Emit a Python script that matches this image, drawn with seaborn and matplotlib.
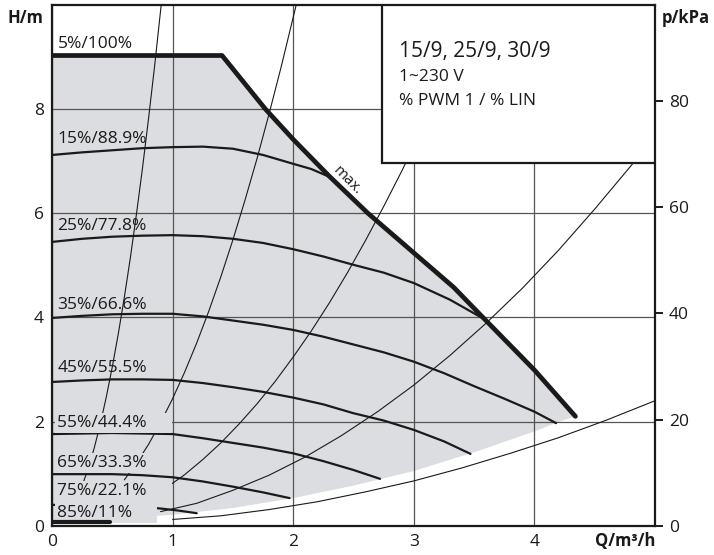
import numpy as np
import matplotlib
matplotlib.use("Agg")
import matplotlib.pyplot as plt
import seaborn as sns
from matplotlib.patches import Rectangle

sns.set_theme(style="white")
plt.rcParams["font.family"] = ["Open Sans", "DejaVu Sans"]

# ---- data ----
max_q = [0.0, 1.41, 1.77, 2.0, 2.3, 2.62, 3.0, 3.33, 3.59, 4.0, 4.34]
max_h = [9.03, 9.03, 8.0, 7.42, 6.71, 6.0, 5.24, 4.58, 3.96, 2.99, 2.10]

lower_q = [0.0, 0.5, 1.0, 1.5, 2.0, 2.5, 3.0, 3.5, 4.0, 4.21]
lower_h = [0.10, 0.13, 0.21, 0.34, 0.53, 0.77, 1.05, 1.41, 1.81, 2.00]

s15_q = [0.0, 0.25, 0.5, 0.75, 1.0, 1.25, 1.5, 1.75, 2.0, 2.15, 2.29]
s15_h = [7.12, 7.17, 7.21, 7.25, 7.27, 7.28, 7.24, 7.12, 6.95, 6.85, 6.71]
s25_q = [0.0, 0.25, 0.5, 0.75, 1.0, 1.25, 1.5, 1.75, 2.0, 2.25, 2.5, 2.75,
         3.0, 3.3, 3.59]
s25_h = [5.45, 5.51, 5.55, 5.57, 5.58, 5.56, 5.51, 5.43, 5.31, 5.17, 5.01,
         4.86, 4.66, 4.34, 3.96]
s35_q = [0.0, 0.25, 0.5, 0.75, 1.0, 1.25, 1.5, 1.75, 2.0, 2.25, 2.5, 2.75,
         3.0, 3.25, 3.5, 3.75, 4.0, 4.18]
s35_h = [3.99, 4.03, 4.06, 4.07, 4.07, 4.02, 3.94, 3.86, 3.76, 3.63, 3.48,
         3.33, 3.15, 2.93, 2.68, 2.44, 2.19, 1.97]
s45_q = [0.0, 0.25, 0.5, 0.75, 1.0, 1.25, 1.5, 1.75, 2.0, 2.25, 2.5, 2.75,
         3.0, 3.25, 3.47]
s45_h = [2.76, 2.79, 2.81, 2.81, 2.80, 2.74, 2.66, 2.57, 2.46, 2.33, 2.16,
         2.02, 1.84, 1.62, 1.38]
s55_q = [0.0, 0.25, 0.5, 0.75, 1.0, 1.25, 1.5, 1.75, 2.0, 2.25, 2.5, 2.72]
s55_h = [1.76, 1.77, 1.78, 1.77, 1.76, 1.68, 1.59, 1.50, 1.39, 1.24, 1.07, 0.90]
s65_q = [0.0, 0.25, 0.5, 0.75, 1.0, 1.25, 1.5, 1.75, 1.97]
s65_h = [0.99, 0.99, 0.99, 0.97, 0.93, 0.85, 0.75, 0.64, 0.53]
s75_q = [0.0, 0.3, 0.6, 0.9, 1.05, 1.2]
s75_h = [0.40, 0.40, 0.39, 0.33, 0.29, 0.24]
s85_q = [0.0, 0.48]
s85_h = [0.065, 0.065]

sys1_q = [0.24, 0.30, 0.35, 0.40, 0.45, 0.50, 0.55, 0.60, 0.65, 0.70, 0.75,
          0.80, 0.85, 0.91]
sys1_h = [0.70, 1.10, 1.49, 1.95, 2.47, 3.05, 3.69, 4.39, 5.15, 5.98, 6.86,
          7.81, 8.81, 10.1]
sys2_q = [0.6, 0.7, 0.8, 0.9, 1.0, 1.1, 1.2, 1.3, 1.4, 1.5, 1.6, 1.7, 1.8,
          1.9, 2.03]
sys2_h = [0.88, 1.20, 1.56, 1.98, 2.44, 2.95, 3.51, 4.12, 4.78, 5.49, 6.25,
          7.05, 7.91, 8.81, 10.05]
sys3_q = [0.96, 1.1, 1.25, 1.4, 1.55, 1.7, 1.85, 2.0, 2.15, 2.3, 2.45, 2.6,
          2.75, 2.9, 3.0]
sys3_h = [0.75, 0.98, 1.27, 1.59, 1.95, 2.34, 2.77, 3.24, 3.74, 4.28, 4.86,
          5.48, 6.13, 6.81, 7.29]
sys4_q = [0.9, 1.2, 1.5, 1.8, 2.1, 2.4, 2.7, 3.0, 3.3, 3.6, 3.9, 4.2, 4.5,
          4.8, 5.0]
sys4_h = [0.27, 0.43, 0.68, 0.97, 1.32, 1.73, 2.19, 2.70, 3.27, 3.89, 4.56,
          5.29, 6.08, 6.91, 7.50]
sys5_q = [1.0, 1.4, 1.8, 2.2, 2.6, 3.0, 3.4, 3.8, 4.2, 4.6, 5.0]
sys5_h = [0.12, 0.19, 0.31, 0.46, 0.65, 0.86, 1.11, 1.39, 1.69, 2.03, 2.40]

labels = ["5%/100%", "15%/88.9%", "25%/77.8%", "35%/66.6%", "45%/55.5%",
          "55%/44.4%", "65%/33.3%", "75%/22.1%", "85%/11%"]
label_h = [9.26, 7.42, 5.75, 4.24, 3.03, 1.97, 1.21, 0.67, 0.24]

x_ticks = [0, 1, 2, 3, 4]
y_ticks = [0, 2, 4, 6, 8]
p_ticks = [0, 20, 40, 60, 80]

box_lines = ["15/9, 25/9, 30/9", "1~230 V", "% PWM 1 / % LIN"]

# ---- figure ----
W, H = 714, 555
fig = plt.figure(figsize=(W / 100, H / 100), dpi=100)
ax = fig.add_axes([52 / W, (H - 525.7) / H, (655 - 52) / W, (525.7 - 5) / H])

GREY = "#dcdde0"
INK = "#1a1a1a"

ax.fill(np.concatenate([max_q, lower_q[::-1]]),
        np.concatenate([max_h, lower_h[::-1]]),
        color=GREY, lw=0, zorder=0.5)

ax.set_xlim(0, 5)
ax.set_ylim(0, 10)
ax.set_xticks(x_ticks)
ax.set_yticks(y_ticks)
ax.grid(True, color="#555555", lw=0.9)

for q, h in [(sys1_q, sys1_h), (sys2_q, sys2_h), (sys3_q, sys3_h),
             (sys4_q, sys4_h), (sys5_q, sys5_h)]:
    sns.lineplot(x=q, y=h, ax=ax, color=INK, lw=0.8, sort=False,
                 estimator=None, zorder=2)

for q, h in [(s15_q, s15_h), (s25_q, s25_h), (s35_q, s35_h), (s45_q, s45_h),
             (s55_q, s55_h), (s65_q, s65_h), (s75_q, s75_h)]:
    sns.lineplot(x=q, y=h, ax=ax, color=INK, lw=1.6, sort=False,
                 estimator=None, zorder=3)

sns.lineplot(x=max_q, y=max_h, ax=ax, color=INK, lw=3.4, sort=False,
             estimator=None, zorder=5)
sns.lineplot(x=s85_q, y=s85_h, ax=ax, color=INK, lw=3.0, sort=False,
             estimator=None, zorder=5)

for i, (lab, yh) in enumerate(zip(labels, label_h)):
    kw = {}
    txt = lab
    if i >= 5:
        txt = lab + "     "
        kw["bbox"] = dict(boxstyle="square,pad=0.12", fc=GREY, ec="none")
    ax.text(0.045, yh, txt, fontsize=12.5, color=INK, ha="left", va="center",
            zorder=4, **kw)

ax.text(2.45, 6.63, "max.", fontsize=11, color=INK, rotation=-45,
        ha="center", va="center", rotation_mode="anchor", zorder=6)

# info box
ax.add_patch(Rectangle((2.74, 6.97), 2.26, 3.03, fc="white", ec=INK,
                       lw=1.6, zorder=8))
ax.text(2.88, 9.10, box_lines[0], fontsize=15, color=INK, va="center", zorder=9)
ax.text(2.88, 8.62, box_lines[1], fontsize=12.5, color=INK, va="center", zorder=9)
ax.text(2.88, 8.16, box_lines[2], fontsize=12.5, color=INK, va="center", zorder=9)

for sp in ax.spines.values():
    sp.set_color(INK)
    sp.set_linewidth(1.6)
ax.tick_params(axis="both", length=0, labelsize=12.5, colors=INK, pad=6)
ax.set_xlabel("")
ax.set_ylabel("")

ax2 = ax.twinx()
ax2.set_ylim(0, 10 * 9.81)
ax2.set_yticks(p_ticks)
ax2.tick_params(axis="y", direction="out", length=6, width=1.4, color=INK,
                labelsize=12.5, labelcolor=INK, pad=4, right=True)
for sp in ax2.spines.values():
    sp.set_visible(False)
ax2.grid(False)

fig.text(25 / W, 1 - 18 / H, "H/m", fontsize=12, fontweight="bold",
         ha="center", va="center", color=INK)
fig.text(686 / W, 1 - 18 / H, "p/kPa", fontsize=12, fontweight="bold",
         ha="center", va="center", color=INK)
fig.text(625 / W, 1 - 541 / H, "Q/m³/h", fontsize=12, fontweight="bold",
         ha="center", va="center", color=INK)

fig.savefig("out.png", dpi=100)
